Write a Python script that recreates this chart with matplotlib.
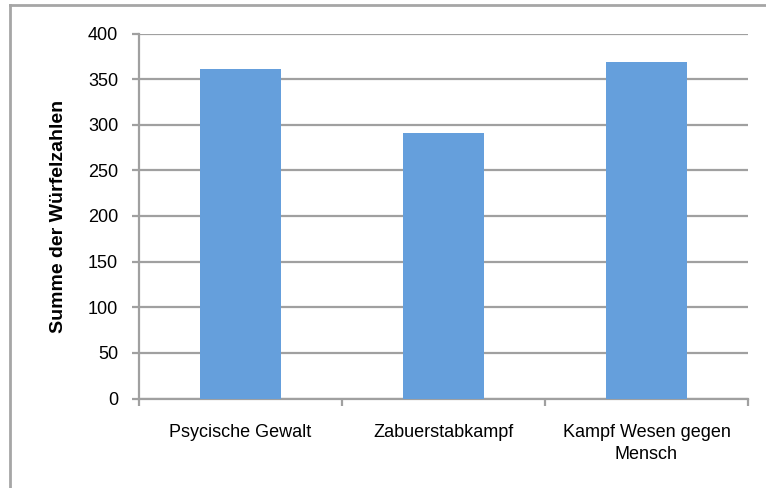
import matplotlib
matplotlib.use("Agg")
import matplotlib.pyplot as plt
from matplotlib.lines import Line2D

categories = ["Psycische Gewalt", "Zabuerstabkampf", "Kampf Wesen gegen\nMensch"]
values = [361, 291, 369]
yticks = [0, 50, 100, 150, 200, 250, 300, 350, 400]

plt.rcParams['font.family'] = ['Liberation Sans', 'DejaVu Sans']

W, H = 766, 488
fig = plt.figure(figsize=(W / 100, H / 100), dpi=100)
ax = fig.add_axes([139 / W, 1 - 398.5 / H, 609 / W, 365 / H])

grid_c = '#a0a0a0'
x = list(range(len(categories)))
ax.bar(x, values, width=0.4, color='#659FDC', zorder=3)

ax.set_xlim(-0.5, len(categories) - 0.5)
ax.set_ylim(0, 400)
ax.set_yticks(yticks)
ax.set_yticklabels([str(v) for v in yticks], fontsize=13)
ax.yaxis.grid(True, color=grid_c, linewidth=1.6, zorder=0)
ax.set_axisbelow(True)

ax.set_xticks(x)
ax.set_xticklabels(categories, fontsize=13, linespacing=1.4)
ax.set_xticks([i - 0.5 for i in range(len(categories) + 1)], minor=True)
ax.tick_params(axis='x', which='major', length=0, pad=18.5)
ax.tick_params(axis='x', which='minor', length=5, width=1.6, color=grid_c)
ax.tick_params(axis='y', length=5, width=1.6, color=grid_c, pad=10)

for s in ['top', 'right']:
    ax.spines[s].set_visible(False)
for s in ['left', 'bottom']:
    ax.spines[s].set_color(grid_c)
    ax.spines[s].set_linewidth(1.6)

ax.set_ylabel("Summe der Würfelzahlen", fontsize=14, fontweight='bold', labelpad=15)

# outer chart border (left and top visible)
bc = '#a6a6a6'
fig.add_artist(Line2D([9.5 / W, 9.5 / W], [0, 1 - 5 / H], color=bc, linewidth=2, transform=fig.transFigure))
fig.add_artist(Line2D([9.5 / W, 1], [1 - 5 / H, 1 - 5 / H], color=bc, linewidth=2, transform=fig.transFigure))

fig.savefig("out.png", dpi=100)
